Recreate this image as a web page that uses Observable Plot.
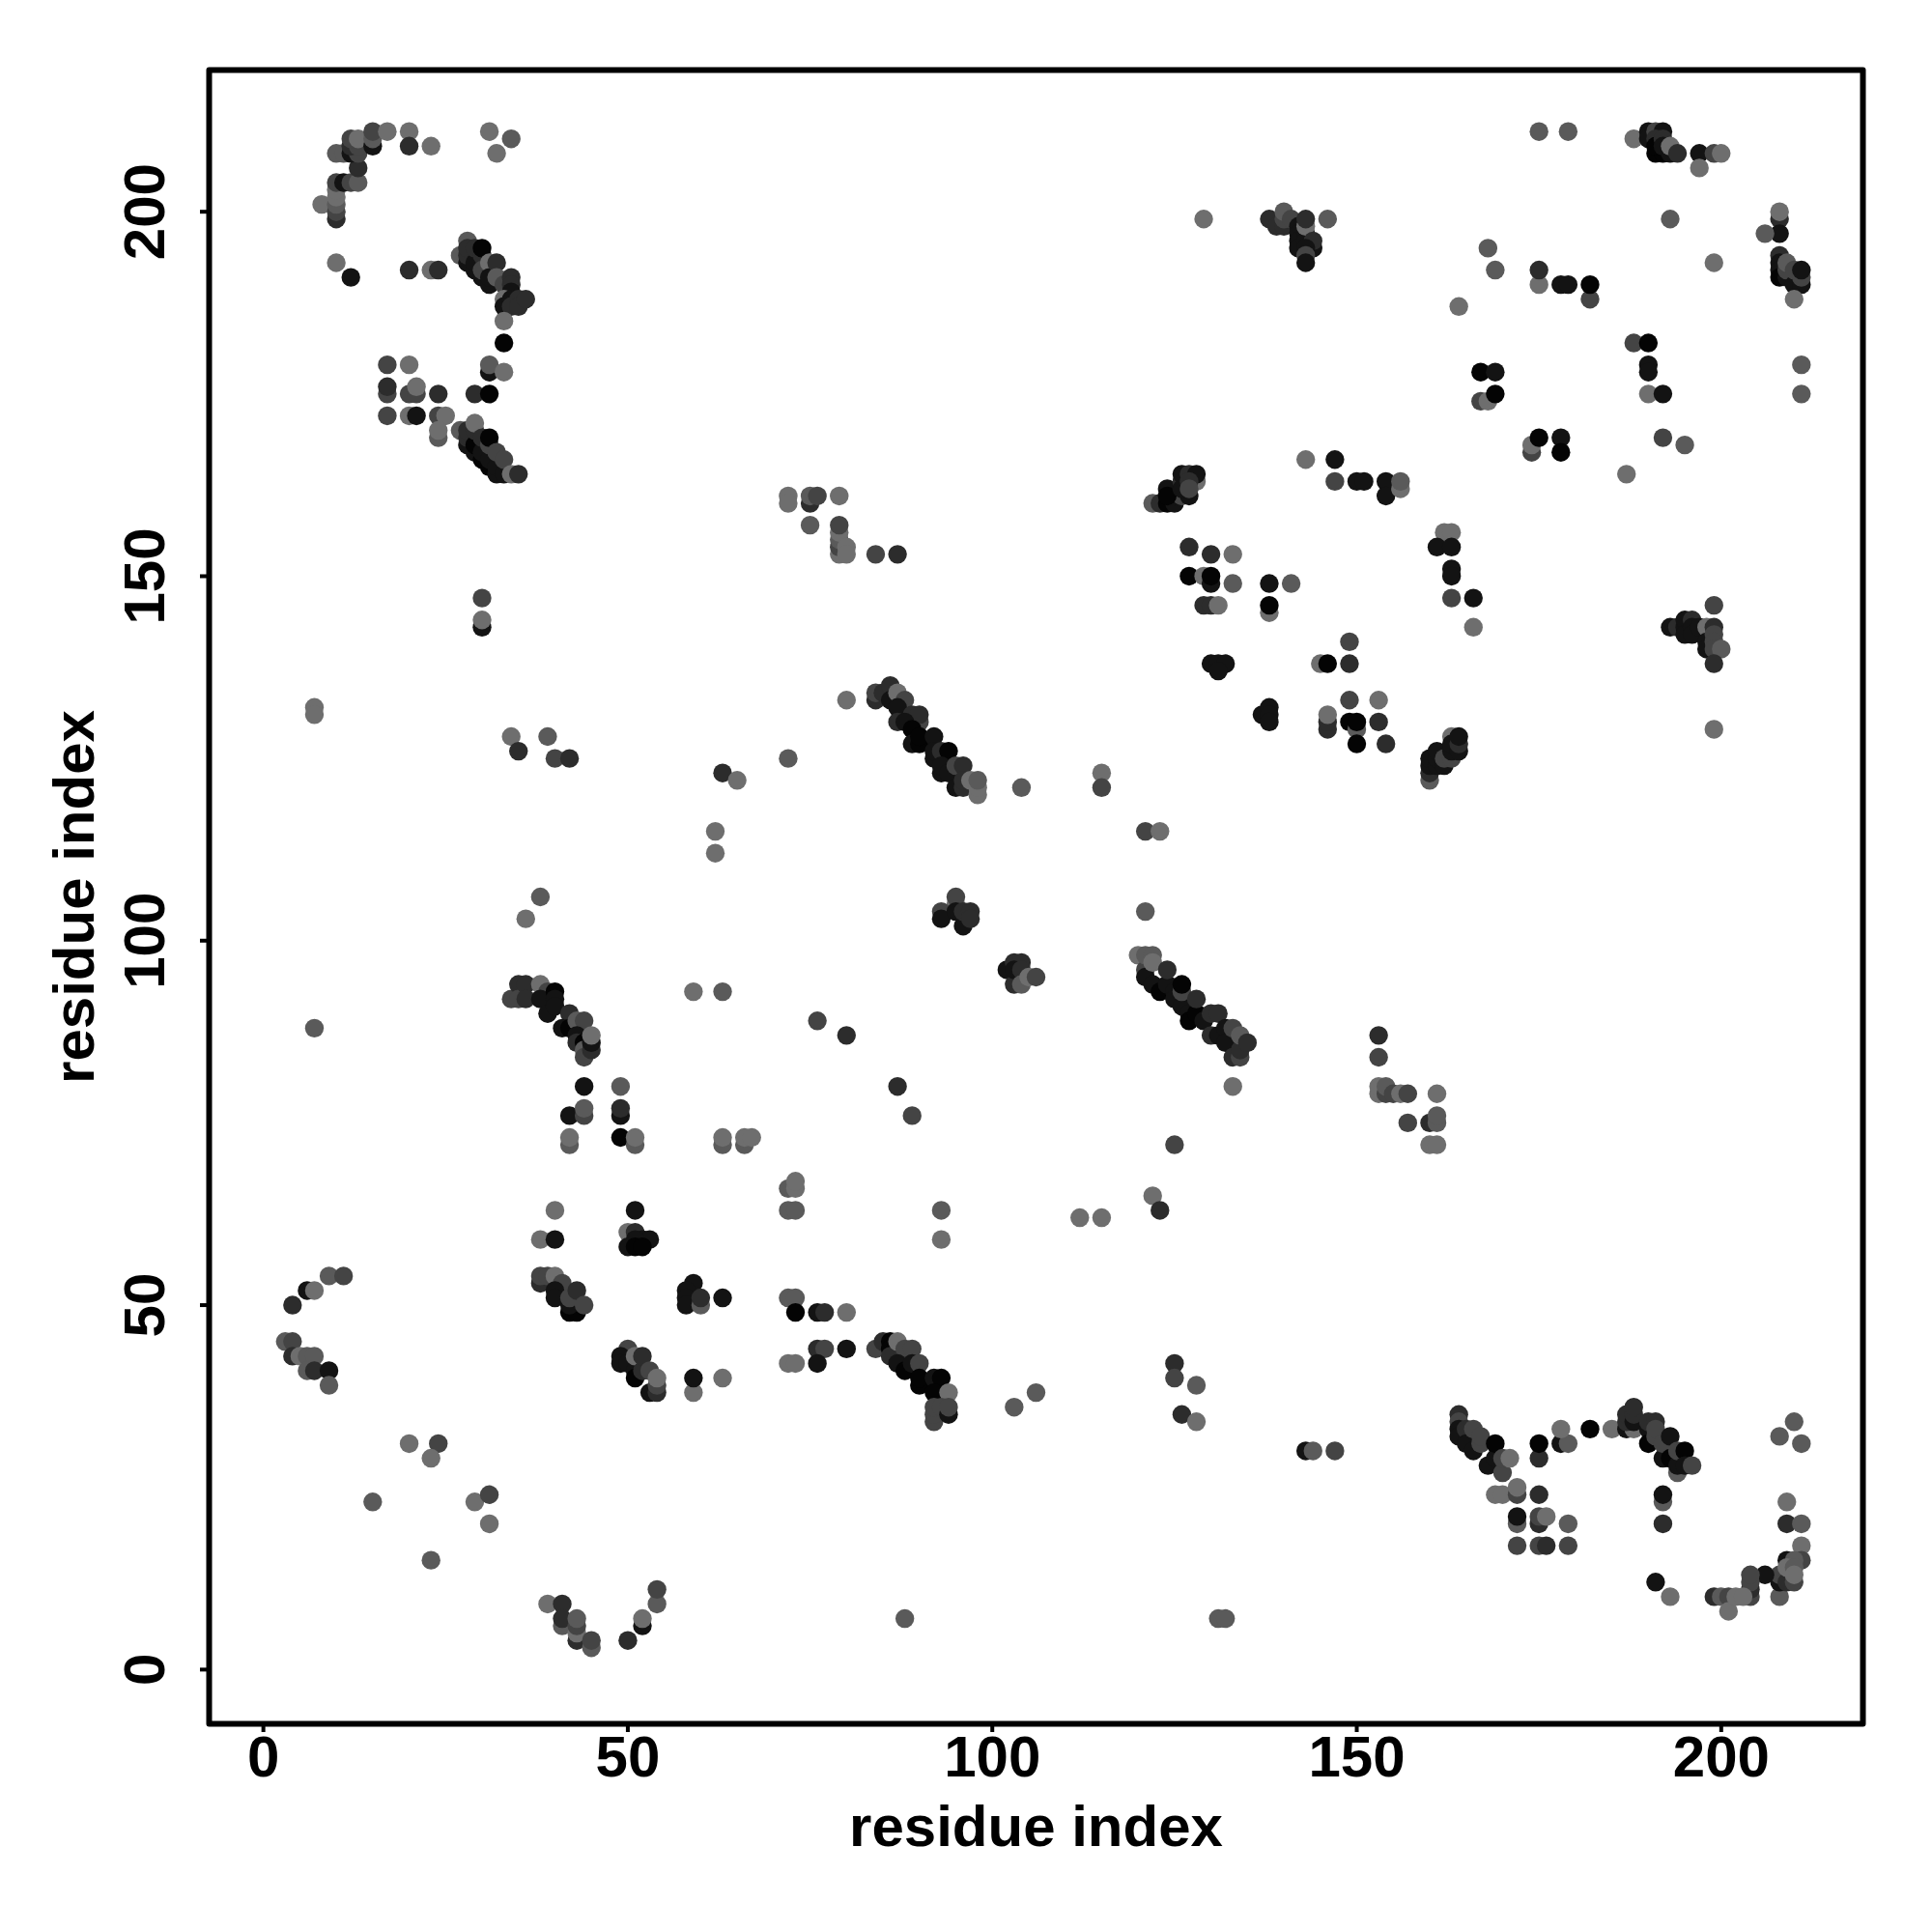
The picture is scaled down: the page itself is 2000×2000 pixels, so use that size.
<!DOCTYPE html>
<html>
<head>
<meta charset="utf-8">
<script src="https://cdn.jsdelivr.net/npm/d3@7"></script>
<script src="https://cdn.jsdelivr.net/npm/@observablehq/plot@0.6"></script>
<style>html,body{margin:0;padding:0;background:#fff}svg{display:block}</style>
</head>
<body>
<div id="chart"></div>
<script>
const tickValues = [0, 50, 100, 150, 200];
const axisTitle = "residue index";
const shadeColor = {a: "#6e6e6e", b: "#5a5a5a", c: "#444444", d: "#2c2c2c", e: "#131313", f: "#040404"};

// [residue i, residue j, shade]
const helixTopLeft = [[8,201,"a"],[10,199,"d"],[10,200,"c"],[10,201,"b"],[10,202,"a"],[10,203,"a"],[10,204,"c"],[11,204,"e"],[12,204,"c"],[13,204,"b"],[13,206,"d"],[10,208,"b"],[11,208,"b"],[12,208,"e"],[13,208,"c"],[12,209,"d"],[13,209,"c"],[12,210,"c"],[13,210,"a"],[15,209,"e"],[15,210,"b"],[15,211,"c"],[17,211,"a"],[20,211,"a"],[20,209,"d"],[23,209,"a"],[31,211,"a"],[34,210,"b"],[32,208,"a"]];
const strandA = [[10,193,"a"],[12,191,"e"],[20,192,"d"],[23,192,"a"],[24,192,"d"],[27,194,"b"],[28,193,"e"],[28,194,"d"],[28,196,"b"],[28,195,"d"],[29,192,"e"],[29,193,"e"],[29,195,"d"],[30,194,"d"],[30,195,"f"],[30,191,"e"],[30,192,"c"],[31,193,"a"],[31,190,"e"],[31,191,"e"],[32,193,"d"],[32,191,"b"],[33,190,"c"],[34,191,"d"],[34,190,"d"],[34,189,"e"],[33,188,"a"],[33,187,"e"],[34,188,"e"],[34,187,"d"],[35,188,"d"],[35,187,"d"],[36,188,"d"],[33,185,"a"],[33,182,"f"]];
const strandB = [[17,179,"c"],[20,179,"a"],[31,178,"e"],[31,179,"b"],[33,178,"a"],[17,175,"c"],[17,176,"d"],[20,175,"c"],[21,175,"c"],[21,176,"a"],[24,175,"d"],[29,175,"d"],[31,175,"f"],[17,172,"c"],[20,172,"a"],[21,172,"e"],[24,172,"c"],[25,172,"a"],[24,169,"b"],[24,170,"a"],[27,170,"b"],[28,168,"e"],[28,169,"d"],[28,170,"d"],[29,167,"e"],[29,168,"f"],[29,170,"d"],[29,171,"a"],[30,166,"f"],[30,167,"e"],[30,169,"d"],[31,165,"f"],[31,166,"e"],[31,168,"c"],[31,169,"f"],[32,164,"e"],[32,165,"e"],[32,167,"c"],[33,164,"e"],[33,166,"c"],[34,164,"a"],[35,164,"d"],[30,143,"e"],[30,144,"a"],[30,147,"c"]];
const topMiddle = [[129,199,"a"],[138,199,"d"],[139,198,"d"],[140,198,"d"],[140,199,"c"],[140,200,"b"],[141,199,"c"],[142,198,"e"],[142,197,"e"],[142,196,"e"],[142,195,"e"],[143,197,"e"],[143,196,"e"],[143,198,"a"],[143,199,"d"],[144,195,"e"],[144,196,"d"],[143,195,"e"],[143,194,"c"],[143,193,"e"],[146,199,"b"]];
const midUpper = [[143,166,"a"],[147,166,"e"],[147,163,"c"],[150,163,"e"],[151,163,"e"],[154,163,"e"],[154,161,"e"],[156,162,"a"],[156,163,"b"],[122,160,"b"],[123,160,"d"],[124,160,"f"],[125,160,"e"],[124,162,"e"],[125,161,"e"],[126,161,"c"],[127,161,"e"],[126,163,"d"],[126,164,"e"],[127,164,"d"],[128,163,"a"],[128,164,"e"],[124,161,"f"],[126,162,"e"],[127,163,"d"],[127,162,"c"]];
const loopLeft = [[72,161,"a"],[72,160,"a"],[75,160,"d"],[75,161,"b"],[76,161,"c"],[79,161,"a"],[75,157,"b"],[79,153,"a"],[79,154,"c"],[79,155,"b"],[79,156,"a"],[79,157,"c"],[80,154,"a"],[80,153,"a"],[84,153,"c"],[87,153,"d"]];
const blockMid = [[127,154,"d"],[130,153,"d"],[133,153,"a"],[127,150,"f"],[129,150,"a"],[130,149,"e"],[130,150,"f"],[133,149,"b"],[138,149,"e"],[141,149,"b"],[129,146,"d"],[130,146,"d"],[131,146,"a"],[138,145,"a"],[138,146,"f"]];
const topRight = [[175,211,"b"],[179,211,"b"],[188,210,"a"],[190,211,"e"],[190,210,"e"],[191,211,"c"],[192,211,"e"],[191,210,"d"],[191,208,"f"],[192,208,"f"],[191,209,"f"],[192,210,"d"],[192,209,"e"],[193,208,"e"],[193,209,"a"],[194,208,"d"],[197,208,"e"],[197,206,"a"],[199,208,"c"],[200,208,"a"],[168,195,"b"],[169,192,"b"],[175,190,"a"],[175,192,"d"],[178,190,"e"],[179,190,"e"],[182,188,"c"],[182,190,"f"],[164,187,"a"],[193,199,"b"],[199,193,"a"]];
const rightEdge = [[208,199,"d"],[208,200,"a"],[208,197,"e"],[206,197,"b"],[208,194,"d"],[208,193,"e"],[208,192,"e"],[208,191,"f"],[209,191,"e"],[209,192,"c"],[209,193,"b"],[210,190,"e"],[210,192,"c"],[211,190,"e"],[211,191,"c"],[211,192,"e"],[210,188,"a"],[188,182,"c"],[190,182,"f"],[190,179,"e"],[190,178,"e"],[190,175,"a"],[192,175,"e"],[211,179,"b"],[211,175,"b"]];
const upperRightScatter = [[167,178,"f"],[169,178,"e"],[167,174,"c"],[168,174,"a"],[169,175,"f"],[174,167,"c"],[174,168,"a"],[175,169,"f"],[178,169,"e"],[178,167,"f"],[192,169,"c"],[195,168,"b"],[187,164,"a"],[162,156,"a"],[163,156,"a"],[161,154,"e"],[163,154,"e"],[163,151,"e"],[163,150,"e"],[163,147,"c"],[166,147,"e"],[166,143,"a"]];
const rightMiddle = [[149,141,"c"],[145,138,"a"],[146,138,"f"],[149,138,"d"],[149,133,"c"],[153,133,"a"],[146,129,"d"],[146,130,"d"],[146,131,"a"],[149,130,"f"],[150,129,"b"],[150,130,"f"],[150,127,"f"],[153,130,"d"],[154,127,"d"],[160,122,"b"],[160,123,"d"],[160,124,"e"],[160,125,"e"],[161,124,"e"],[161,125,"e"],[161,126,"e"],[162,124,"e"],[162,125,"c"],[163,128,"a"],[163,125,"c"],[163,126,"e"],[163,127,"e"],[164,126,"e"],[164,127,"d"],[164,128,"e"]];
const rightCluster = [[193,143,"e"],[194,143,"d"],[195,143,"e"],[195,144,"e"],[195,142,"e"],[196,144,"d"],[196,143,"e"],[196,142,"e"],[197,143,"e"],[198,143,"a"],[198,141,"e"],[198,140,"e"],[199,146,"c"],[199,143,"d"],[199,142,"c"],[199,141,"c"],[199,140,"c"],[200,140,"b"],[199,138,"d"],[199,129,"a"]];
const lowerRightSmall = [[153,87,"d"],[153,84,"c"],[153,79,"a"],[153,80,"a"],[154,79,"c"],[154,80,"b"],[155,79,"c"],[156,79,"a"],[157,79,"c"],[161,79,"a"],[157,75,"c"],[160,75,"d"],[161,75,"b"],[161,76,"b"],[160,72,"a"],[161,72,"a"]];
const midLeft = [[7,132,"a"],[7,131,"a"],[34,128,"a"],[35,126,"d"],[39,128,"b"],[40,125,"c"],[42,125,"d"],[63,123,"d"],[65,122,"a"],[62,115,"a"],[62,112,"a"],[38,106,"b"],[36,103,"a"],[59,93,"a"],[63,93,"b"],[7,88,"b"]];
const diagA = [[34,92,"c"],[35,94,"d"],[35,92,"c"],[36,94,"d"],[36,92,"d"],[38,94,"a"],[39,93,"c"],[38,92,"e"],[40,93,"f"],[40,92,"e"],[39,90,"e"],[40,91,"e"],[42,90,"d"],[41,88,"e"],[42,88,"f"],[43,89,"b"],[44,89,"c"],[43,87,"e"],[43,86,"d"],[44,86,"f"],[44,85,"b"],[44,84,"c"],[45,85,"d"],[45,86,"e"],[45,87,"a"]];
const belowDiagA = [[44,80,"e"],[49,80,"b"],[42,76,"e"],[44,76,"c"],[44,77,"b"],[49,76,"e"],[49,77,"d"],[49,73,"f"],[51,72,"b"],[51,73,"a"],[42,72,"b"],[42,73,"a"],[63,72,"b"],[63,73,"a"],[66,72,"b"],[66,73,"a"],[67,73,"a"]];
const diagB = [[80,133,"a"],[72,125,"b"],[84,133,"d"],[84,134,"c"],[85,134,"d"],[86,135,"d"],[86,133,"e"],[87,134,"a"],[88,133,"c"],[87,132,"e"],[87,130,"d"],[89,131,"d"],[90,130,"c"],[90,131,"d"],[88,130,"e"],[89,129,"f"],[89,127,"e"],[90,127,"f"],[90,128,"f"],[92,128,"e"],[92,125,"e"],[92,126,"e"],[93,126,"d"],[94,126,"f"],[93,123,"e"],[93,124,"e"],[94,123,"e"],[95,124,"c"],[96,124,"d"],[95,121,"e"],[96,121,"d"],[96,122,"d"],[97,122,"a"],[98,120,"a"],[98,121,"a"],[98,122,"b"],[104,121,"b"],[115,123,"a"],[115,121,"c"],[121,115,"c"],[123,115,"a"],[121,104,"b"]];
const clusters95 = [[95,105,"a"],[95,106,"c"],[93,104,"c"],[93,103,"e"],[95,104,"e"],[96,102,"e"],[96,104,"d"],[97,104,"d"],[97,103,"d"],[102,96,"e"],[103,97,"d"],[104,97,"d"],[103,94,"d"],[103,96,"e"],[104,96,"d"],[104,94,"b"],[105,95,"a"],[106,95,"c"]];
const diagC = [[120,98,"a"],[121,96,"c"],[121,95,"e"],[121,98,"b"],[122,98,"b"],[122,97,"a"],[122,94,"e"],[123,93,"f"],[124,94,"e"],[124,96,"d"],[125,93,"e"],[125,92,"e"],[126,91,"e"],[126,93,"c"],[126,94,"f"],[127,90,"e"],[127,89,"f"],[128,90,"f"],[128,92,"d"],[129,89,"e"],[130,87,"d"],[130,90,"d"],[131,87,"e"],[131,90,"d"],[132,88,"e"],[132,86,"e"],[133,84,"d"],[133,88,"c"],[134,84,"c"],[134,85,"d"],[134,87,"b"],[135,86,"d"],[133,80,"a"]];
const centerScatter = [[76,89,"c"],[80,87,"d"],[87,80,"d"],[89,76,"c"],[125,72,"c"],[130,138,"e"],[131,138,"e"],[132,138,"e"],[131,137,"e"],[137,131,"e"],[138,132,"e"],[138,131,"e"],[138,130,"e"]];
const lowerCenter = [[72,66,"b"],[73,66,"a"],[73,67,"a"],[72,63,"b"],[73,63,"b"],[93,63,"b"],[93,59,"a"],[112,62,"a"],[115,62,"a"],[122,65,"a"],[123,63,"d"],[72,51,"b"],[73,51,"b"],[73,49,"f"],[76,49,"e"],[77,49,"d"],[80,49,"a"],[76,44,"d"],[77,44,"c"],[80,44,"e"],[72,42,"a"],[73,42,"a"],[76,42,"e"]];
const diagD = [[84,44,"c"],[85,45,"d"],[86,45,"f"],[86,44,"f"],[86,43,"d"],[87,45,"a"],[88,44,"c"],[89,44,"c"],[87,42,"e"],[88,41,"f"],[89,42,"e"],[90,42,"c"],[90,39,"f"],[90,40,"f"],[92,40,"e"],[93,40,"f"],[92,38,"f"],[94,38,"a"],[92,34,"c"],[92,35,"c"],[92,36,"c"],[93,36,"c"],[94,35,"e"],[94,36,"c"]];
const lowerMiddle = [[103,36,"b"],[106,38,"b"],[125,42,"d"],[125,40,"c"],[128,39,"b"],[126,35,"d"],[128,34,"a"],[88,7,"b"],[131,7,"b"],[132,7,"b"],[143,30,"e"],[144,30,"b"],[147,30,"c"]];
const bottomLeft = [[9,54,"b"],[11,54,"c"],[6,52,"e"],[7,52,"a"],[4,50,"d"],[3,45,"b"],[4,45,"c"],[4,43,"d"],[5,43,"a"],[6,43,"b"],[7,43,"b"],[6,41,"b"],[7,41,"d"],[9,41,"e"],[9,39,"b"],[20,31,"a"],[24,31,"c"],[23,29,"a"],[15,23,"b"],[29,23,"a"],[31,24,"c"],[31,20,"a"],[23,15,"b"]];
const bottomArc = [[39,9,"a"],[41,9,"d"],[41,6,"b"],[41,7,"d"],[43,4,"d"],[43,5,"a"],[43,6,"c"],[43,7,"b"],[45,3,"b"],[45,4,"c"],[50,4,"d"],[52,6,"e"],[52,7,"a"],[54,9,"b"],[54,11,"c"]];
const strandC = [[40,63,"a"],[38,59,"a"],[40,59,"e"],[51,63,"e"],[50,60,"a"],[51,60,"d"],[52,59,"e"],[53,59,"e"],[51,59,"e"],[50,58,"e"],[51,58,"f"],[52,58,"f"],[59,53,"e"],[58,52,"e"],[58,51,"e"],[58,50,"e"],[60,50,"b"],[60,51,"d"],[63,51,"e"]];
const strandD = [[38,53,"d"],[38,54,"c"],[39,54,"c"],[40,54,"a"],[41,53,"c"],[40,52,"e"],[40,51,"e"],[42,49,"f"],[43,49,"f"],[42,50,"e"],[42,51,"c"],[43,52,"d"],[44,50,"c"]];
const strandE = [[50,44,"c"],[49,43,"e"],[49,42,"e"],[50,42,"e"],[51,41,"e"],[51,40,"f"],[51,43,"a"],[52,41,"d"],[52,43,"d"],[53,38,"e"],[53,41,"c"],[54,38,"d"],[54,39,"c"],[54,40,"a"],[59,38,"a"],[59,40,"e"],[63,40,"a"]];
const lowerRightDiag = [[164,35,"d"],[164,34,"c"],[164,33,"e"],[164,32,"e"],[165,33,"d"],[165,31,"e"],[166,30,"e"],[166,33,"c"],[167,31,"c"],[167,32,"c"],[168,28,"e"],[169,29,"e"],[169,31,"f"],[170,27,"c"],[170,29,"c"],[171,29,"a"]];
const lowerRightScatter = [[169,24,"a"],[170,24,"a"],[172,24,"c"],[172,25,"a"],[175,24,"d"],[175,29,"d"],[175,31,"f"],[178,31,"e"],[179,31,"b"],[178,33,"a"],[182,33,"f"],[185,33,"a"]];
const lowerRightPeak = [[187,33,"e"],[188,33,"a"],[187,34,"d"],[187,35,"d"],[188,34,"e"],[188,35,"d"],[188,36,"d"],[190,33,"e"],[190,34,"d"],[191,34,"d"],[190,31,"f"],[191,32,"c"],[191,33,"c"],[192,29,"e"],[192,31,"c"],[193,32,"e"],[193,29,"f"],[194,27,"b"],[194,28,"e"],[194,30,"c"],[195,30,"f"],[195,28,"e"],[196,28,"c"]];
const lowerRightBlock = [[172,20,"b"],[172,21,"e"],[175,20,"d"],[175,21,"c"],[176,21,"a"],[179,20,"b"],[172,17,"c"],[175,17,"c"],[176,17,"d"],[179,17,"c"],[192,23,"b"],[192,24,"e"],[192,20,"d"],[191,12,"e"],[193,10,"a"]];
const bottomRight = [[210,34,"b"],[208,32,"b"],[211,31,"b"],[209,23,"a"],[209,20,"d"],[211,20,"b"],[211,17,"a"],[208,10,"b"],[208,12,"e"],[208,13,"c"],[209,12,"d"],[209,15,"e"],[211,15,"c"],[210,15,"b"],[209,14,"a"],[210,12,"c"],[210,14,"b"],[210,13,"a"],[206,13,"e"],[204,10,"c"],[204,11,"d"],[204,12,"c"],[204,13,"c"],[199,10,"d"],[200,10,"b"],[201,10,"c"],[201,8,"a"],[202,10,"a"],[203,10,"a"]];

const contacts = [helixTopLeft, strandA, strandB, topMiddle, midUpper, loopLeft, blockMid, topRight, rightEdge, upperRightScatter, rightMiddle, rightCluster, lowerRightSmall, midLeft, diagA, belowDiagA, diagB, clusters95, diagC, centerScatter, lowerCenter, diagD, lowerMiddle, bottomLeft, bottomArc, strandC, strandD, strandE, lowerRightDiag, lowerRightScatter, lowerRightPeak, lowerRightBlock, bottomRight].flat();

const font = {fontFamily: "'Liberation Sans', Arial, sans-serif", fontWeight: "bold", fontSize: 60};

const plot = Plot.plot({
  width: 2000,
  height: 2000,
  marginLeft: 216,
  marginRight: 72,
  marginTop: 72,
  marginBottom: 216,
  style: {background: "#fff"},
  x: {domain: [-7.44, 219.44], label: null},
  y: {domain: [-7.44, 219.44], label: null},
  marks: [
    Plot.dot(contacts, {
      x: d => d[0],
      y: d => d[1],
      r: 9.7,
      fill: d => shadeColor[d[2]],
      stroke: "none"
    }),
    Plot.axisX({
      ticks: tickValues, tickFormat: d => String(d), tickSize: 9, strokeWidth: 4, tickPadding: 3,
      label: axisTitle, labelAnchor: "center", labelArrow: "none", labelOffset: 126, ...font
    }),
    Plot.axisY({
      ticks: tickValues, tickFormat: d => String(d), tickSize: 9, strokeWidth: 4, tickPadding: 38, tickRotate: -90,
      label: axisTitle, labelAnchor: "center", labelArrow: "none", labelOffset: 162, ...font
    }),
    Plot.frame({stroke: "black", strokeWidth: 6, strokeLinejoin: "round"})
  ]
});
document.getElementById("chart").append(plot);
</script>
</body>
</html>
